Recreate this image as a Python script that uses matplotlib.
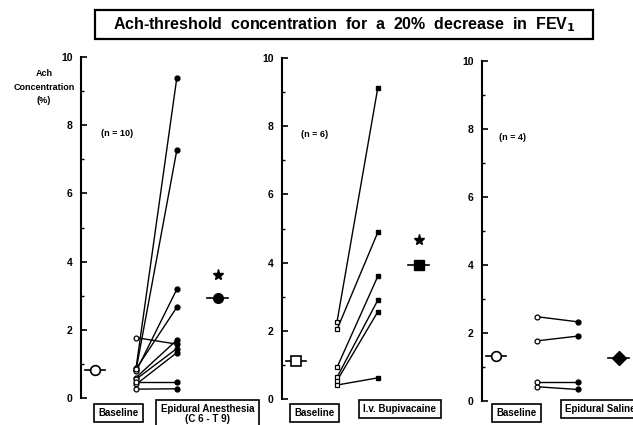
import matplotlib
matplotlib.use('Agg')
import matplotlib.pyplot as plt
import matplotlib.transforms as mtransforms
from matplotlib.patches import Rectangle

plt.rcParams['font.family'] = ['Liberation Sans', 'DejaVu Sans']
plt.rcParams['font.weight'] = 'bold'

# data (Ach concentration, %)
epi_base = [0.88, 0.82, 1.77, 0.78, 0.85, 0.60, 0.55, 0.40, 0.47, 0.26]
epi_after = [9.39, 7.27, 1.58, 3.19, 2.66, 1.70, 1.45, 1.33, 0.47, 0.27]
epi_means = [0.82, 2.92]
epi_star = 3.6

bup_base = [2.27, 2.04, 0.93, 0.64, 0.54, 0.41]
bup_after = [9.13, 4.89, 3.60, 2.90, 2.56, 0.62]
bup_means = [1.12, 3.93]
bup_star = 4.65

sal_base = [2.47, 1.76, 0.54, 0.41]
sal_after = [2.32, 1.90, 0.54, 0.33]
sal_means = [1.31, 1.25]

n_labels = ['(n = 10)', '(n = 6)', '(n = 4)']
group_labels = [('Baseline', 'Epidural Anesthesia\n(C 6 - T 9)'),
                ('Baseline', 'I.v. Bupivacaine'),
                ('Baseline', 'Epidural Saline')]

W, H = 633, 425
fig = plt.figure(figsize=(W / 100, H / 100), dpi=100)


def px_axes(left, y0, y10, width=157):
    return fig.add_axes([left / W, (H - y0) / H, width / W, (y0 - y10) / H])


def panel(ax, base, after, means, star, mk, mean_mk_after, nlab, labs, labx, nx):
    for b, a in zip(base, after):
        ax.plot([1, 2], [b, a], color='k', lw=1.0, zorder=2)
    ax.plot([1] * len(base), base, ls='none', marker=mk, ms=3.5, mfc='white',
            mec='k', mew=0.9, zorder=3)
    ax.plot([2] * len(after), after, ls='none', marker=mk, ms=3.5, mfc='k',
            mec='k', zorder=3)
    # group means with short bars
    ax.plot([-0.25, 0.25], [means[0], means[0]], color='k', lw=1.2)
    ax.plot([0], [means[0]], marker=mk, ms=7, mfc='white', mec='k', mew=1.2)
    ax.plot([2.75, 3.25], [means[1], means[1]], color='k', lw=1.2)
    ax.plot([3], [means[1]], marker=mean_mk_after, ms=7, mfc='k', mec='k')
    if star is not None:
        ax.plot([3], [star], marker='*', ms=8, color='k')

    ax.set_xlim(-0.35, 3.5)
    ax.set_ylim(0, 10)
    for s in ['top', 'right', 'bottom']:
        ax.spines[s].set_visible(False)
    ax.spines['left'].set_linewidth(1.5)
    ax.set_xticks([])
    ax.set_yticks([0, 2, 4, 6, 8, 10])
    ax.set_yticks([1, 3, 5, 7, 9], minor=True)
    ax.tick_params(axis='y', direction='in', length=4, width=1.2, labelsize=7.5, pad=6)
    ax.tick_params(axis='y', which='minor', direction='in', length=2, width=1)
    ax.set_facecolor('none')

    ax.text(nx, 7.75, nlab, fontsize=6.5, ha='center', va='center')

    tr = mtransforms.blended_transform_factory(ax.transData, fig.transFigure)
    box = dict(boxstyle='square,pad=0.45', fc='white', ec='k', lw=1.2)
    ax.text(labx[0], (H - 413) / H, labs[0], transform=tr, fontsize=7,
            ha='center', va='center', bbox=box, clip_on=False)
    ax.text(labx[1], (H - 404) / H, labs[1], transform=tr, fontsize=7,
            ha='center', va='top', linespacing=1.0, bbox=box, clip_on=False)


ax1 = px_axes(81, 398, 57)
panel(ax1, epi_base, epi_after, epi_means, epi_star, 'o', 'o',
      n_labels[0], group_labels[0], (0.57, 2.75), 0.54)
ax2 = px_axes(282, 399, 58)
panel(ax2, bup_base, bup_after, bup_means, bup_star, 's', 's',
      n_labels[1], group_labels[1], (0.45, 2.54), 0.46)
ax3 = px_axes(482, 400.7, 60.7)
panel(ax3, sal_base, sal_after, sal_means, None, 'o', 'D',
      n_labels[2], group_labels[2], (0.49, 2.55), 0.41)

fig.text(44 / W, (H - 87) / H, 'Ach\nConcentration\n(%)', fontsize=6.5,
         ha='center', va='center', linespacing=1.7)

# boxed title
fig.patches.append(Rectangle((95 / W, (H - 39) / H), 498 / W, 29 / H,
                             transform=fig.transFigure, fill=False, ec='k', lw=1.6))
fig.text(344 / W, (H - 25) / H,
         'Ach-threshold  concentration  for  a  20%  decrease  in  FEV$_\\mathbf{1}$',
         fontsize=11.5, ha='center', va='center')

plt.savefig('out.png', dpi=100)
